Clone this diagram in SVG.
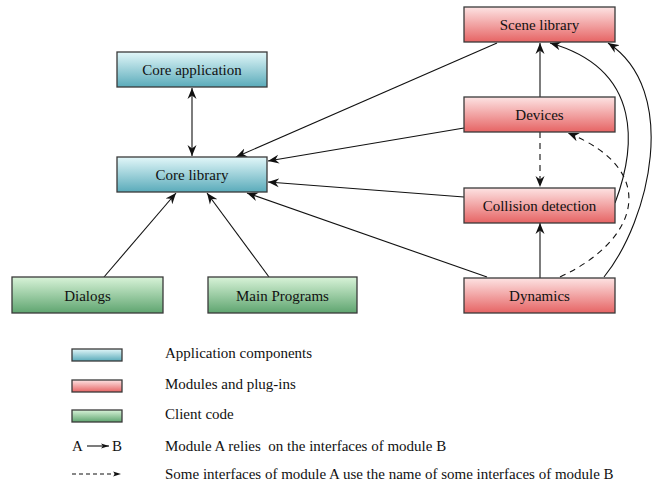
<svg xmlns="http://www.w3.org/2000/svg" width="655" height="487" viewBox="0 0 655 487">
<style>
text{font-family:"Liberation Serif","Times New Roman",serif;font-size:15px;fill:#111}
.lbl{text-anchor:middle}
.box{stroke:#3a3a3a;stroke-width:1.3}
.c{fill:none;stroke:#111;stroke-width:1.1}
.d{stroke-dasharray:6,5}
</style>
<defs>
<linearGradient id="gb" x1="0" y1="0" x2="0" y2="1"><stop offset="0" stop-color="#e2f7f9"/><stop offset="1" stop-color="#5aabba"/></linearGradient>
<linearGradient id="gr" x1="0" y1="0" x2="0" y2="1"><stop offset="0" stop-color="#fde3e3"/><stop offset="1" stop-color="#e66464"/></linearGradient>
<linearGradient id="gg" x1="0" y1="0" x2="0" y2="1"><stop offset="0" stop-color="#d8f3d8"/><stop offset="1" stop-color="#5fa570"/></linearGradient>
<marker id="ah" markerUnits="userSpaceOnUse" markerWidth="12" markerHeight="10" refX="11" refY="5" orient="auto"><path d="M0,0.5 L11,5 L0,9.5 L3.5,5 z" fill="#111"/></marker>
<marker id="as" markerUnits="userSpaceOnUse" markerWidth="12" markerHeight="10" refX="11" refY="5" orient="auto-start-reverse"><path d="M0,0.5 L11,5 L0,9.5 L3.5,5 z" fill="#111"/></marker>
<marker id="sm" markerUnits="userSpaceOnUse" markerWidth="9" markerHeight="6" refX="8" refY="3" orient="auto"><path d="M0,0.5 L8,3 L0,5.5 L2,3 z" fill="#111"/></marker>
</defs>
<g id="connectors">
<path class="c" d="M192,88 L192,156" marker-start="url(#as)" marker-end="url(#as)"/>
<path class="c" d="M497,43 L236,157" marker-end="url(#ah)"/>
<path class="c" d="M464,128 L268,161" marker-end="url(#ah)"/>
<path class="c" d="M464,197 L268,182" marker-end="url(#ah)"/>
<path class="c" d="M487,277 L247,193" marker-end="url(#ah)"/>
<path class="c" d="M104,277 L176,193" marker-end="url(#ah)"/>
<path class="c" d="M269,277 L207,193" marker-end="url(#ah)"/>
<path class="c" d="M540,97 L540,43" marker-end="url(#ah)"/>
<path class="c d" d="M540,132 L540,187" marker-end="url(#ah)"/>
<path class="c" d="M540,278 L540,223" marker-end="url(#ah)"/>
<path class="c" d="M615,203 C635,150 645,70 550,43" marker-end="url(#ah)"/>
<path class="c" d="M604,277 C650,220 680,90 608,43" marker-end="url(#ah)"/>
<path class="c d" d="M560,277 C640,240 660,170 568,133" marker-end="url(#ah)"/>
</g>
<g id="core-application"><rect class="box" x="117" y="52" width="150" height="35" fill="url(#gb)"/><text class="lbl" x="192" y="75">Core application</text></g>
<g id="core-library"><rect class="box" x="117" y="157" width="150" height="35" fill="url(#gb)"/><text class="lbl" x="192" y="180">Core library</text></g>
<g id="dialogs"><rect class="box" x="12" y="277" width="151" height="36" fill="url(#gg)"/><text class="lbl" x="87.5" y="300.5">Dialogs</text></g>
<g id="main-programs"><rect class="box" x="208" y="277" width="149" height="36" fill="url(#gg)"/><text class="lbl" x="282.5" y="300.5">Main Programs</text></g>
<g id="scene-library"><rect class="box" x="464" y="7" width="151" height="35" fill="url(#gr)"/><text class="lbl" x="539.5" y="29.5">Scene library</text></g>
<g id="devices"><rect class="box" x="464" y="97" width="151" height="35" fill="url(#gr)"/><text class="lbl" x="539.5" y="119.5">Devices</text></g>
<g id="collision-detection"><rect class="box" x="464" y="188" width="151" height="35" fill="url(#gr)"/><text class="lbl" x="539.5" y="210.5">Collision detection</text></g>
<g id="dynamics"><rect class="box" x="464" y="278" width="151" height="35" fill="url(#gr)"/><text class="lbl" x="539.5" y="300.5">Dynamics</text></g>
<g id="legend">
<rect class="box" x="72" y="349" width="50" height="12" fill="url(#gb)"/>
<text x="165" y="358">Application components</text>
<rect class="box" x="72" y="380" width="50" height="12" fill="url(#gr)"/>
<text x="165" y="389">Modules and plug-ins</text>
<rect class="box" x="72" y="410" width="50" height="12" fill="url(#gg)"/>
<text x="165" y="419">Client code</text>
<text x="72" y="451">A</text>
<path class="c" d="M87,446 L109,446" marker-end="url(#sm)"/>
<text x="112" y="451">B</text>
<text x="165" y="451">Module A relies&#160; on the interfaces of module B</text>
<path class="c" d="M72,474 L121,474" stroke-dasharray="4,3" marker-end="url(#sm)"/>
<text x="165" y="479">Some interfaces of module A use the name of some interfaces of module B</text>
</g>
</svg>
